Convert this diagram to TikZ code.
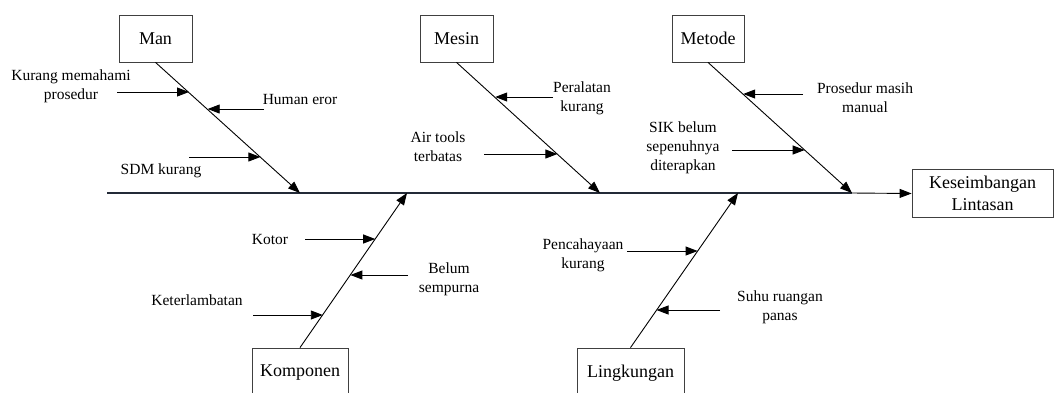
\documentclass[tikz,border=0pt]{standalone}
\usepackage{fontspec}
\setmainfont{Liberation Serif}
\usetikzlibrary{arrows.meta,calc}
\begin{document}
\begin{tikzpicture}[x=1pt,y=-1pt,
  catbox/.style={draw=black!75,line width=0.8pt,inner sep=0pt,font=\fontsize{18}{22}\selectfont},
  cause/.style={align=center,inner sep=0pt,font=\fontsize{15.5}{19}\selectfont},
  bone/.style={line width=0.9pt,-{Triangle[length=12pt,width=9pt]}},
  spine/.style={line width=1.4pt,draw={rgb,255:red,35;green,42;blue,55}},
  tick/.style={line width=0.9pt,-{Triangle[length=12pt,width=9pt]}}]
\useasboundingbox (0,0) rectangle (1054,392);
\clip (0,0) rectangle (1054,392);
% category boxes
\node[catbox,minimum width=73pt,minimum height=47pt] (man) at (155.5,38.5) {Man};
\node[catbox,minimum width=73pt,minimum height=47pt] (mesin) at (456.5,38.5) {Mesin};
\node[catbox,minimum width=72pt,minimum height=47pt] (metode) at (708,38.5) {Metode};
\node[catbox,minimum width=141pt,minimum height=48pt,align=center] (effect) at (982.5,193.5) {Keseimbangan\\[0pt]Lintasan};
\node[catbox,minimum width=96pt,minimum height=50pt] (komp) at (300,373) {Komponen};
\node[catbox,minimum width=107pt,minimum height=50pt] (ling) at (630.5,373) {Lingkungan};
% spine points
\coordinate (sL) at (107,193);
\coordinate (jman) at (300,193);
\coordinate (jmes) at (600,193);
\coordinate (jmet) at (852,193);
\coordinate (jkom) at (407,193);
\coordinate (jlin) at (738,193);
\draw[spine] (sL) -- (jmet);
\draw[line width=0.9pt,-{Triangle[length=12pt,width=9pt]}] (jmet) -- (effect.west);
% bones
\draw[bone] (man.south) -- (jman);
\draw[bone] (mesin.south) -- (jmes);
\draw[bone] (metode.south) -- (jmet);
\draw[bone] (komp.north) -- (jkom);
\draw[bone] (ling.north) -- (jlin);
% cause tips on bones
\coordinate (t1) at (189,92);   \coordinate (s1) at (117,92);
\coordinate (t2) at (207.7,109); \coordinate (s2) at (264,109);
\coordinate (t3) at (260.4,157); \coordinate (s3) at (189,157);
\coordinate (t4) at (495.2,97); \coordinate (s4) at (553,97);
\coordinate (t5) at (557.4,154); \coordinate (s5) at (484,154);
\coordinate (t6) at (743.2,94); \coordinate (s6) at (803,94);
\coordinate (t7) at (804.7,150); \coordinate (s7) at (732,150);
\coordinate (t8) at (375.2,239); \coordinate (s8) at (305,239);
\coordinate (t9) at (350.4,275); \coordinate (s9) at (408,275);
\coordinate (t10) at (322.8,315); \coordinate (s10) at (253,315);
\coordinate (t11) at (697.6,251); \coordinate (s11) at (627,251);
\coordinate (t12) at (656.5,310); \coordinate (s12) at (720,310);
\foreach \i in {1,...,12} {\draw[tick] (s\i) -- (t\i);}
% cause labels
\node[cause] (c1) at (71,86) {Kurang memahami\\prosedur};
\node[cause] (c2) at (300,99) {Human eror};
\node[cause] (c3) at (161,171) {SDM kurang};
\node[cause] (c4) at (582,98) {Peralatan\\kurang};
\node[cause] (c5) at (438,147) {Air tools\\terbatas};
\node[cause] (c6) at (865,98) {Prosedur masih\\manual};
\node[cause] (c7) at (683,148) {SIK belum\\sepenuhnya\\diterapkan};
\node[cause] (c8) at (270,239) {Kotor};
\node[cause] (c9) at (449,279) {Belum\\sempurna};
\node[cause] (c10) at (197,300) {Keterlambatan};
\node[cause] (c11) at (583,255) {Pencahayaan\\kurang};
\node[cause] (c12) at (780,307) {Suhu ruangan\\panas};
\end{tikzpicture}
\end{document}
